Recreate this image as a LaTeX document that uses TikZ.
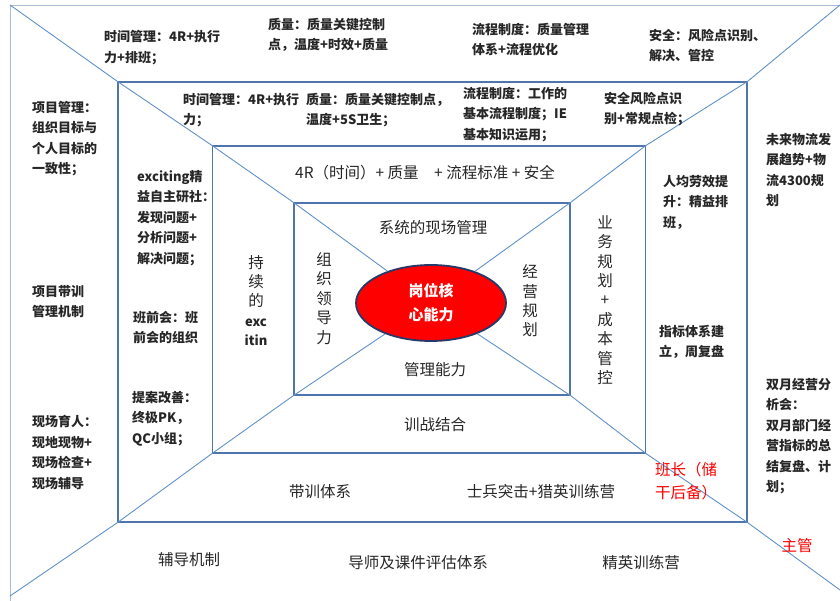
\documentclass[tikz,border=0pt]{standalone}
\usepackage{fontspec}
\setmainfont{Noto Sans CJK SC}
\usepackage{tikz}
\usetikzlibrary{shapes.geometric}
\definecolor{boxblue}{RGB}{79,118,172}
\definecolor{lineblue}{RGB}{96,145,200}
\definecolor{framegray}{RGB}{170,188,215}
\definecolor{inkgray}{RGB}{38,38,38}
\definecolor{coreedge}{RGB}{38,58,105}
\tikzstyle{frame} = [rectangle, draw=boxblue, line width=1.3pt, inner sep=0pt]
\tikzstyle{diag} = [draw=lineblue, line width=0.9pt]
\tikzstyle{note} = [anchor=north west, align=left, inner sep=0pt, text=inkgray, font=\bfseries\fontsize{13}{20.5}\selectfont]
\tikzstyle{zone} = [align=center, inner sep=0pt, text=inkgray, font=\fontsize{15.5}{19.4}\selectfont]
\tikzstyle{rednote} = [align=left, inner sep=0pt, text=red, font=\fontsize{15.5}{23}\selectfont]
\tikzstyle{core} = [ellipse, draw=coreedge, line width=1.8pt, fill=red, minimum width=150pt, minimum height=76pt, text=white, align=center, font=\bfseries\fontsize{15}{24}\selectfont]

\begin{document}
\begin{tikzpicture}[x=1pt, y=-1pt]
\useasboundingbox (0,0) rectangle (840,601);

\coordinate (otl) at (10,5);
\coordinate (otr) at (840,5);
\coordinate (obl) at (10,596);
\coordinate (obr) at (840,590);
\coordinate (oend) at (10,601);

\node (ring2) [frame, minimum width=629pt, minimum height=440pt] at (432.5,302) {};
\node (ring3) [frame, minimum width=433pt, minimum height=307pt] at (429,299.5) {};
\node (ring4) [frame, minimum width=276pt, minimum height=192pt] at (432,299) {};
\node (gangwei) [core] at (431,303) {岗位核\\心能力};

\draw [framegray, line width=0.8pt] (otr) -- (otl) -- (oend);
\draw [diag] (otl) -- (ring2.north west) -- (ring3.north west) -- (ring4.north west) -- (gangwei);
\draw [diag] (otr) -- (ring2.north east) -- (ring3.north east) -- (ring4.north east) -- (gangwei);
\draw [diag] (obl) -- (ring2.south west) -- (ring3.south west) -- (ring4.south west) -- (gangwei);
\draw [diag] (obr) -- (ring2.south east) -- (ring3.south east) -- (ring4.south east) -- (gangwei);

\node (t1) [note] at (104,30.5) {时间管理：4R+执行\\力+排班；};
\node (t2) [note] at (268,18) {质量：质量关键控制\\点，温度+时效+质量};
\node (t3) [note] at (472,23) {流程制度：质量管理\\体系+流程优化};
\node (t4) [note] at (649,29) {安全：风险点识别、\\解决、管控};

\node (s1) [note] at (183,93) {时间管理：4R+执行\\力；};
\node (s2) [note] at (306,93) {质量：质量关键控制点，\\温度+5S卫生；};
\node (s3) [note] at (463,87) {流程制度：工作的\\基本流程制度；IE\\基本知识运用；};
\node (s4) [note] at (604,92) {安全风险点识\\别+常规点检；};

\node (l1) [note] at (32,101) {项目管理：\\组织目标与\\个人目标的\\一致性；};
\node (l2) [note] at (32,285) {项目带训\\管理机制};
\node (l3) [note] at (32,415) {现场育人：\\现地现物+\\现场检查+\\现场辅导};

\node (m1) [note] at (137,170) {exciting精\\益自主研社：\\发现问题+\\分析问题+\\解决问题；};
\node (m2) [note] at (133,311) {班前会：班\\前会的组织};
\node (m3) [note] at (132,391) {提案改善：\\终极PK，\\QC小组；};

\node (r1) [note] at (766,133) {未来物流发\\展趋势+物\\流4300规\\划};
\node (r2) [note] at (766,378) {双月经营分\\析会：\\双月部门经\\营指标的总\\结复盘、计\\划；};

\node (q1) [note] at (663,175) {人均劳效提\\升：精益排\\班，};
\node (q2) [note] at (659,325) {指标体系建\\立，周复盘};

\node (banzhang) [rednote, anchor=north west] at (655,462) {班长（储\\干后备）};
\node (zhuguan) [rednote] at (797,546) {主管};

\node (z1) [zone] at (425,173) {4R（时间）+ 质量　+ 流程标准 + 安全};
\node (z2) [zone] at (256,300.5) {持\\续\\的\\{\bfseries\fontsize{13}{19.4}\selectfont exc}\\{\bfseries\fontsize{13}{19.4}\selectfont itin}};
\node (z3) [zone] at (605,300) {业\\务\\规\\划\\+\\成\\本\\管\\控};
\node (z4) [zone] at (435,425) {训战结合};

\node (w1) [zone] at (433,228) {系统的现场管理};
\node (w2) [zone] at (324,298.5) {组\\织\\领\\导\\力};
\node (w3) [zone] at (530,301) {经\\营\\规\\划};
\node (w4) [zone] at (435,370) {管理能力};

\node (b1) [zone] at (320,492) {带训体系};
\node (b2) [zone] at (541,492) {士兵突击+猎英训练营};
\node (u1) [zone] at (189,560) {辅导机制};
\node (u2) [zone] at (418,563) {导师及课件评估体系};
\node (u3) [zone] at (641,563) {精英训练营};

\end{tikzpicture}
\end{document}
